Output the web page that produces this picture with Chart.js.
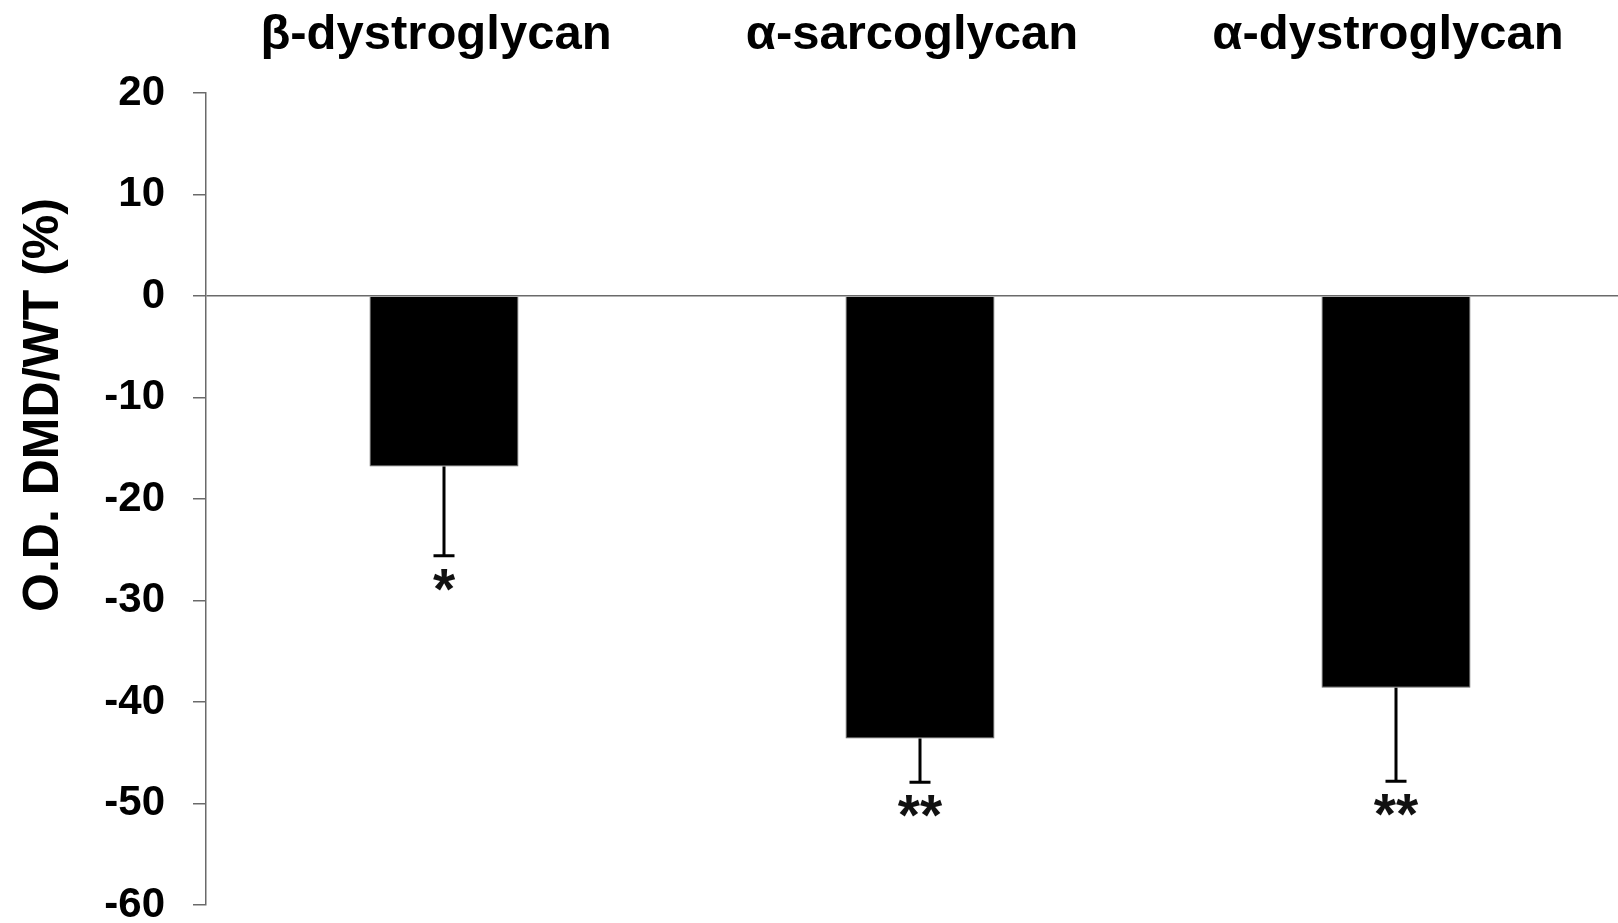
<!DOCTYPE html>
<html>
<head>
<meta charset="utf-8">
<script src="https://cdn.jsdelivr.net/npm/chart.js@4/dist/chart.umd.min.js"></script>
<style>
    html, body { margin: 0; padding: 0; background: #fff; overflow: hidden; }
    canvas { display: block; }
</style>
</head>
<body>
<canvas id="chart" width="1634" height="923"></canvas>
<script>
// values
const categories = ['β-dystroglycan', 'α-sarcoglycan', 'α-dystroglycan'];
const values = [-16.8, -43.6, -38.6];
const errors = [8.8, 4.3, 9.2];
const stars = ['*', '**', '**'];
const yTitle = 'O.D. DMD/WT (%)';
const yMin = -60, yMax = 20, yStep = 10;

const FONT = '"Liberation Sans", Arial, Helvetica, sans-serif';
const AXIS = '#6a6a6a';

// error bars, asterisks and the y title
const extras = {
    id: 'extras',
    afterDatasetsDraw(chart) {
        const ctx = chart.ctx;
        const x = chart.scales.x, y = chart.scales.y;
        ctx.save();
        ctx.strokeStyle = '#000';
        ctx.lineWidth = 3;
        values.forEach((v, i) => {
            const px = x.getPixelForValue(i);
            const top = y.getPixelForValue(v);
            const bot = y.getPixelForValue(v - errors[i]);
            ctx.beginPath();
            ctx.moveTo(px, top);
            ctx.lineTo(px, bot);
            ctx.moveTo(px - 10.5, bot);
            ctx.lineTo(px + 10.5, bot);
            ctx.stroke();

            ctx.font = 'bold 57px ' + FONT;
            ctx.fillStyle = '#111';
            ctx.textAlign = 'center';
            ctx.textBaseline = 'alphabetic';
            const m = ctx.measureText(stars[i]);
            const centre = bot + 24;
            ctx.fillText(stars[i], px, centre + (m.actualBoundingBoxAscent - m.actualBoundingBoxDescent) / 2);
        });

        ctx.translate(44, 405);
        ctx.rotate(-Math.PI / 2);
        ctx.font = 'bold 50px ' + FONT;
        ctx.fillStyle = '#000';
        ctx.textAlign = 'center';
        ctx.textBaseline = 'middle';
        ctx.fillText(yTitle, 0, 0);
        ctx.restore();
    }
};

new Chart(document.getElementById('chart'), {
    type: 'bar',
    data: {
        labels: categories,
        datasets: [{
            data: values,
            backgroundColor: '#000',
            borderColor: '#666',
            borderWidth: 1,
            barPercentage: 0.313,
            categoryPercentage: 1
        }]
    },
    options: {
        responsive: false,
        animation: false,
        devicePixelRatio: 1,
        layout: { padding: { top: 0, left: 0, right: 0, bottom: 18 } },
        plugins: {
            legend: { display: false },
            tooltip: { enabled: false }
        },
        scales: {
            x: {
                position: 'top',
                grid: { display: false, drawTicks: false },
                border: { display: false },
                ticks: {
                    color: '#000',
                    font: { family: FONT, size: 49, weight: 'bold' },
                    padding: 28,
                    labelOffset: -8,
                    maxRotation: 0,
                    autoSkip: false
                },
                afterFit(s) { s.height = 93; }
            },
            y: {
                min: yMin,
                max: yMax,
                grid: {
                    color: c => c.tick && c.tick.value === 0 ? AXIS : 'transparent',
                    tickColor: AXIS,
                    tickLength: 13,
                    lineWidth: 1.5
                },
                border: { color: AXIS, width: 1.5 },
                ticks: {
                    stepSize: yStep,
                    color: '#000',
                    padding: 28,
                    font: { family: FONT, size: 42, weight: 'bold' }
                },
                afterFit(s) {
                    s.width = 206;
                    s.paddingTop = 0;
                    s.paddingBottom = 0;
                }
            }
        }
    },
    plugins: [extras]
});
</script>
</body>
</html>
